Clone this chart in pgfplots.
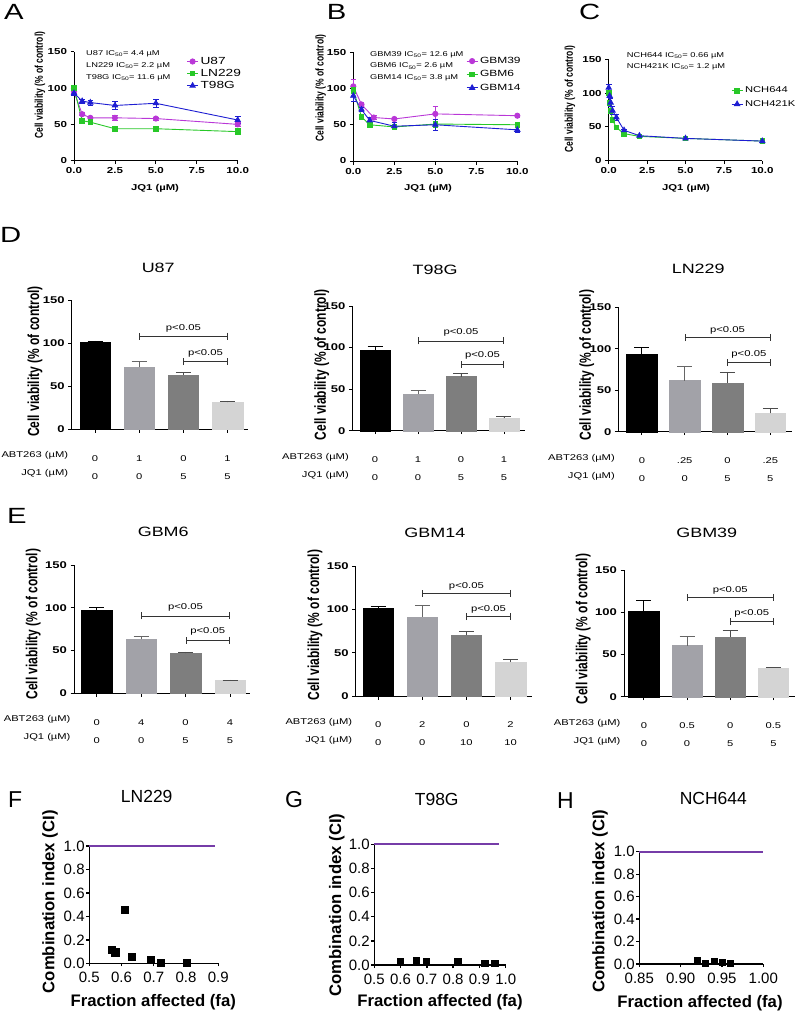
\documentclass[border=0pt]{standalone}
\usepackage{fontspec}
\setmainfont{Liberation Sans}[FakeStretch=1.33]
\newfontfamily\plainsf{Liberation Sans}
\usepackage{pgfplots}
\pgfplotsset{compat=1.18}
\usetikzlibrary{arrows.meta}

\definecolor{cmag}{RGB}{185,55,215}
\definecolor{cgreen}{RGB}{40,200,40}
\definecolor{cblue}{RGB}{30,30,210}
\definecolor{bartwo}{RGB}{162,162,168}
\definecolor{barthree}{RGB}{126,126,126}
\definecolor{barfour}{RGB}{212,212,212}
\definecolor{cipurple}{RGB}{118,60,168}

\newcommand{\fs}[2]{\fontsize{#1}{#2}\selectfont}
% significance bracket: x1, x2, y, label y, label x
\newcommand{\pbr}[5]{%
  \draw[line width=0.8pt, black!80, {Bar[width=7pt]}-{Bar[width=7pt]}] (axis cs:#1,#3) -- (axis cs:#2,#3);
  \node[font=\fs{8.5}{10}, inner sep=0pt] at (axis cs:#5,#4) {p<0.05};}

\tikzset{
  ic/.style={anchor=north west, align=left, inner sep=0pt, font=\fs{7}{12}},
  xltop/.style={anchor=center, inner sep=0pt, font=\bfseries\fs{8.5}{10}},
  xlbot/.style={anchor=center, inner sep=0pt, font=\plainsf\bfseries\fs{16.7}{18}},
}

\pgfplotsset{
  panel/.style={scale only axis, clip=false,
    axis x line=bottom, axis y line=left,
    axis line style={-, black, line width=0.8pt},
    x axis line style={-}, y axis line style={-},
    tick align=outside, major tick length=3.5pt,
    tick style={black, line width=0.8pt},
    /pgf/number format/assume math mode=true},
  ylab/.style 2 args={ylabel style={at={(axis description cs:#1,#2)}, anchor=center}},
  ttl/.style 2 args={title style={at={(axis description cs:#1,#2)}, anchor=center, yshift=-6pt}},
  dose/.style={panel, xmin=0, xmax=10, ymin=0, ymax=150,
    xtick={0,2.5,5,7.5,10}, ytick={0,50,100,150},
    xticklabel style={/pgf/number format/fixed, /pgf/number format/fixed zerofill, /pgf/number format/precision=1},
    tick label style={font=\bfseries\fs{8.7}{10}},
    ylabel={\scalebox{1}[1.33]{Cell viability (\% of control)}},
    ylabel style={font=\plainsf\bfseries\fs{8.5}{10}},
    legend style={draw=none, fill=none, inner sep=0pt},
    legend cell align=left,
    legend image code/.code={\draw[mark repeat=2, mark phase=2, ##1] plot coordinates {(0pt,0pt) (5.5pt,0pt) (11pt,0pt)};}},
  ser/.style={#1, line width=0.9pt, mark options={solid, fill=#1}},
  err/.style={error bars/.cd, y dir=both, y explicit,
    error bar style={line width=0.7pt, #1},
    error mark options={rotate=90, mark size=2.8pt, line width=0.7pt, #1}},
  barp/.style={panel, ymin=0, ymax=150, ytick={0,50,100,150}, xtick={0,1,2,3},
    ybar, bar width=30.5pt, every axis plot/.append style={bar shift=0pt},
    yticklabel style={font=\bfseries\fs{9.8}{11}},
    xticklabel style={font=\fs{8.4}{18}, align=center, yshift=-19pt},
    ylabel={\scalebox{1}[1.33]{Cell viability (\% of control)}},
    ylabel style={font=\plainsf\bfseries\fs{12}{13}},
    title style={font=\fs{13.5}{15}},
    extra x tick style={major tick length=0pt, xticklabel style={anchor=north east, align=right}}},
  beb/.style={error bars/.cd, y dir=plus, y explicit,
    error bar style={line width=0.8pt, #1},
    error mark options={rotate=90, mark size=7.5pt, line width=0.8pt, #1}},
  cip/.style={panel, ymin=0, ymax=1, ytick={0,0.2,0.4,0.6,0.8,1},
    axis line style={line width=1.3pt}, tick style={line width=1.3pt}, major tick length=3pt,
    xticklabel style={/pgf/number format/fixed, /pgf/number format/fixed zerofill, /pgf/number format/precision=1, yshift=-4pt},
    yticklabel style={/pgf/number format/fixed, /pgf/number format/fixed zerofill, /pgf/number format/precision=1},
    tick label style={font=\plainsf\fs{15}{17}, inner sep=1.5pt},
    ylabel={Combination index (CI)},
    ylabel style={font=\plainsf\bfseries\fs{16.7}{18}},
    title style={font=\plainsf\fs{17.5}{19}}},
}

\begin{document}
\begin{tikzpicture}
\useasboundingbox (0,0) rectangle (798pt,-1019pt);

% panel letters
\begin{scope}[every node/.style={font=\fs{22}{24}, inner sep=0pt, anchor=west}]
\node at (4pt,-12pt) {A};
\node at (326.7pt,-12pt) {B};
\node at (579pt,-12pt) {C};
\node at (0pt,-235pt) {D};
\node at (7pt,-516pt) {E};
\end{scope}
\begin{scope}[every node/.style={font=\plainsf\fs{23}{25}, inner sep=0pt, anchor=west}]
\node at (8pt,-800pt) {F};
\node at (285pt,-800pt) {G};
\node at (557pt,-801pt) {H};
\end{scope}

% x axis labels
\node[xltop] at (155pt,-188.3pt) {JQ1 (µM)};
\node[xltop] at (428pt,-188.3pt) {JQ1 (µM)};
\node[xltop] at (686pt,-188.3pt) {JQ1 (µM)};
\node[xlbot] at (153.3pt,-1001.7pt) {Fraction affected (fa)};
\node[xlbot] at (440pt,-1001.7pt) {Fraction affected (fa)};
\node[xlbot] at (700pt,-1003pt) {Fraction affected (fa)};

% ---------- A ----------
\begin{axis}[dose, at={(74pt,-160.7pt)}, anchor=south west, width=163.7pt, height=109pt,
  ylab={-0.208}{0.694},
  legend style={at={(axis description cs:0.687,0.97)}, anchor=north west, font=\fs{10.3}{12}, row sep=-0.6pt}]
\addplot[ser=cmag, mark=*, mark size=2.6pt, err=cmag] coordinates {
  (0,95) +- (0,3) (0.5,64) +- (0,2) (1,59) +- (0,2.5) (2.5,59) +- (0,3.5) (5,58) +- (0,2) (10,50) +- (0,3)};
\addlegendentry{U87}
\addplot[ser=cgreen, mark=square*, mark size=2.3pt, err=cgreen] coordinates {
  (0,100) +- (0,3) (0.5,55) +- (0,2) (1,53) +- (0,2) (2.5,44) +- (0,2) (5,44) +- (0,2) (10,40) +- (0,4)};
\addlegendentry{LN229}
\addplot[ser=cblue, mark=triangle*, mark size=3pt, err=cblue] coordinates {
  (0,93) +- (0,3) (0.5,82) +- (0,3) (1,80) +- (0,3.5) (2.5,76) +- (0,5) (5,79) +- (0,5) (10,56) +- (0,4.5)};
\addlegendentry{T98G}
\node[ic] at (axis description cs:0.073,1.011) {U87 IC\textsubscript{50}= 4.4 µM\\LN229 IC\textsubscript{50}= 2.2 µM\\T98G IC\textsubscript{50}= 11.6 µM};
\end{axis}

% ---------- B ----------
\begin{axis}[dose, at={(353.3pt,-161pt)}, anchor=south west, width=164pt, height=108.7pt,
  ylab={-0.199}{0.672},
  legend style={at={(axis description cs:0.687,0.975)}, anchor=north west, font=\fs{9}{11}, row sep=1.6pt}]
\addplot[ser=cmag, mark=*, mark size=2.6pt, err=cmag] coordinates {
  (0,103) +- (0,10) (0.5,78) +- (0,3) (1.25,60) +- (0,3) (2.5,58) +- (0,2) (5,65) +- (0,10) (10,62.5) +- (0,2)};
\addlegendentry{GBM39}
\addplot[ser=cgreen, mark=square*, mark size=2.3pt, err=cgreen] coordinates {
  (0,98) +- (0,5) (0.5,61) +- (0,3) (1,50) +- (0,2) (2.5,47) +- (0,4) (5,51) +- (0,4) (10,50) +- (0,2)};
\addlegendentry{GBM6}
\addplot[ser=cblue, mark=triangle*, mark size=3pt, err=cblue] coordinates {
  (0,90) +- (0,8) (0.5,71) +- (0,3) (1,56) +- (0,4) (2.5,48) +- (0,5) (5,50) +- (0,8) (10,43) +- (0,3)};
\addlegendentry{GBM14}
\node[ic, font=\fs{7}{11.3}] at (axis description cs:0.102,1.007) {GBM39 IC\textsubscript{50}= 12.6 µM\\GBM6 IC\textsubscript{50}= 2.6 µM\\GBM14 IC\textsubscript{50}= 3.8 µM};
\end{axis}

% ---------- C ----------
\begin{axis}[dose, at={(608.7pt,-160.7pt)}, anchor=south west, width=153.6pt, height=101.4pt,
  ylab={-0.252}{0.608},
  legend style={at={(axis description cs:0.796,0.748)}, anchor=north west, font=\fs{8.4}{10}, row sep=2pt}]
\addplot[ser=cgreen, mark=square*, mark size=2.3pt, err=cgreen] coordinates {
  (0,100) +- (0,4) (0.06,86) +- (0,4) (0.125,74) +- (0,3) (0.25,60) +- (0,3) (0.5,49) +- (0,2)
  (1,40) +- (0,2) (2,36) +- (0,2) (5,33) +- (0,1.5) (10,29) +- (0,1.5)};
\addlegendentry{NCH644}
\addplot[ser=cblue, mark=triangle*, mark size=3pt, err=cblue] coordinates {
  (0,108) +- (0,5) (0.06,96) +- (0,8) (0.125,86) +- (0,6) (0.25,74) +- (0,6) (0.5,64) +- (0,4)
  (1,45) +- (0,2) (2,37) +- (0,2) (5,33) +- (0,1.5) (10,29) +- (0,1.5)};
\addlegendentry{NCH421K}
\node[ic, font=\fs{7}{10.7}] at (axis description cs:0.117,1.067) {NCH644 IC\textsubscript{50}= 0.66 µM\\NCH421K IC\textsubscript{50}= 1.2 µM};
\end{axis}

% ---------- D: U87 ----------
\begin{axis}[barp, at={(71.7pt,-429.3pt)}, anchor=south west, width=176.6pt, height=129.3pt,
  xmin=-0.53, xmax=3.47, ylab={-0.208}{0.524}, title={U87}, ttl={0.49}{1.245},
  xticklabels={{0\\0},{1\\0},{0\\5},{1\\5}},
  extra x ticks={-0.53}, extra x tick labels={{ABT263 (µM)\\JQ1 (µM)}}]
\addplot[fill=black, draw=black, beb=black] coordinates {(0,100.5) +- (0,2)};
\addplot[fill=bartwo, draw=bartwo, beb=black!60] coordinates {(1,72) +- (0,6.5)};
\addplot[fill=barthree, draw=barthree, beb=black!70] coordinates {(2,63) +- (0,2.7)};
\addplot[fill=barfour, draw=barfour, beb=black!70] coordinates {(3,31.3) +- (0,1.6)};
\pbr{1}{3}{108}{117}{2}
\pbr{2}{3}{78.5}{88}{2.5}
\end{axis}

% ---------- D: T98G ----------
\begin{axis}[barp, at={(352.3pt,-430.7pt)}, anchor=south west, width=172.7pt, height=124.7pt,
  xmin=-0.53, xmax=3.49, ylab={-0.177}{0.527}, title={T98G}, ttl={0.479}{1.289},
  xticklabels={{0\\0},{1\\0},{0\\5},{1\\5}},
  extra x ticks={-0.53}, extra x tick labels={{ABT263 (µM)\\JQ1 (µM)}}]
\addplot[fill=black, draw=black, beb=black] coordinates {(0,97) +- (0,4)};
\addplot[fill=bartwo, draw=bartwo, beb=black!60] coordinates {(1,43.7) +- (0,4.3)};
\addplot[fill=barthree, draw=barthree, beb=black!70] coordinates {(2,65) +- (0,4)};
\addplot[fill=barfour, draw=barfour, beb=black!70] coordinates {(3,14.8) +- (0,2)};
\pbr{1}{3}{108}{118}{2}
\pbr{2}{3}{80}{90}{2.5}
\end{axis}

% ---------- D: LN229 ----------
\begin{axis}[barp, at={(618.3pt,-431.7pt)}, anchor=south west, width=173.4pt, height=124.4pt,
  xmin=-0.55, xmax=3.5, ylab={-0.182}{0.536}, title={LN229}, ttl={0.461}{1.313},
  xticklabels={{0\\0},{.25\\0},{0\\5},{.25\\5}},
  extra x ticks={-0.55}, extra x tick labels={{ABT263 (µM)\\JQ1 (µM)}}]
\addplot[fill=black, draw=black, beb=black] coordinates {(0,93.3) +- (0,8.4)};
\addplot[fill=bartwo, draw=bartwo, beb=black!60] coordinates {(1,61.5) +- (0,17.7)};
\addplot[fill=barthree, draw=barthree, beb=black!70] coordinates {(2,59) +- (0,13)};
\addplot[fill=barfour, draw=barfour, beb=black!70] coordinates {(3,22) +- (0,6)};
\pbr{1}{3}{113.4}{122.6}{2}
\pbr{2}{3}{83.2}{93.7}{2.5}
\end{axis}

% ---------- E: GBM6 ----------
\begin{axis}[barp, at={(74pt,-693.3pt)}, anchor=south west, width=176pt, height=128.3pt,
  xmin=-0.51, xmax=3.45, ylab={-0.231}{0.54}, title={GBM6}, ttl={0.507}{1.26},
  xticklabels={{0\\0},{4\\0},{0\\5},{4\\5}},
  extra x ticks={-0.51}, extra x tick labels={{ABT263 (µM)\\JQ1 (µM)}}]
\addplot[fill=black, draw=black, beb=black] coordinates {(0,97.4) +- (0,2.6)};
\addplot[fill=bartwo, draw=bartwo, beb=black!60] coordinates {(1,63) +- (0,3)};
\addplot[fill=barthree, draw=barthree, beb=black!70] coordinates {(2,46.8) +- (0,1.5)};
\addplot[fill=barfour, draw=barfour, beb=black!70] coordinates {(3,15.2) +- (0,0.4)};
\pbr{1}{3}{90.4}{100}{2}
\pbr{2}{3}{62.3}{72}{2.5}
\end{axis}

% ---------- E: GBM14 ----------
\begin{axis}[barp, at={(355.7pt,-696pt)}, anchor=south west, width=176pt, height=130pt,
  xmin=-0.51, xmax=3.48, ylab={-0.231}{0.546}, title={GBM14}, ttl={0.45}{1.252},
  xticklabels={{0\\0},{2\\0},{0\\10},{2\\10}},
  extra x ticks={-0.51}, extra x tick labels={{ABT263 (µM)\\JQ1 (µM)}}]
\addplot[fill=black, draw=black, beb=black] coordinates {(0,101) +- (0,2.8)};
\addplot[fill=bartwo, draw=bartwo, beb=black!60] coordinates {(1,91.5) +- (0,13.5)};
\addplot[fill=barthree, draw=barthree, beb=black!70] coordinates {(2,70) +- (0,4.2)};
\addplot[fill=barfour, draw=barfour, beb=black!70] coordinates {(3,39.2) +- (0,3.1)};
\pbr{1}{3}{118.5}{127}{2}
\pbr{2}{3}{91.5}{100}{2.5}
\end{axis}

% ---------- E: GBM39 ----------
\begin{axis}[barp, at={(624pt,-696.7pt)}, anchor=south west, width=171pt, height=126.7pt,
  xmin=-0.46, xmax=3.5, ylab={-0.238}{0.534}, title={GBM39}, ttl={0.484}{1.29},
  xticklabels={{0\\0},{0.5\\0},{0\\5},{0.5\\5}},
  extra x ticks={-0.46}, extra x tick labels={{ABT263 (µM)\\JQ1 (µM)}}]
\addplot[fill=black, draw=black, beb=black] coordinates {(0,101.8) +- (0,12)};
\addplot[fill=bartwo, draw=bartwo, beb=black!60] coordinates {(1,60.4) +- (0,10.6)};
\addplot[fill=barthree, draw=barthree, beb=black!70] coordinates {(2,71) +- (0,7)};
\addplot[fill=barfour, draw=barfour, beb=black!70] coordinates {(3,34.3) +- (0,0.4)};
\pbr{1}{3}{117.6}{126}{2}
\pbr{2}{3}{88.8}{98.7}{2.5}
\end{axis}

% ---------- F ----------
\begin{axis}[cip, at={(89.3pt,-963.3pt)}, anchor=south west, width=129pt, height=117.3pt,
  xmin=0.5, xmax=0.9, xtick={0.5,0.6,0.7,0.8,0.9},
  ylab={-0.305}{0.525}, title={LN229}, ttl={0.445}{1.42}]
\addplot[cipurple, line width=2.2pt] coordinates {(0.5,1) (0.89,1)};
\addplot[only marks, mark=square*, mark size=3.6pt, black] coordinates {
  (0.569,0.119) (0.580,0.094) (0.611,0.455) (0.632,0.057) (0.691,0.028) (0.722,0.006) (0.802,0.006)};
\end{axis}

% ---------- G ----------
\begin{axis}[cip, at={(374.3pt,-965pt)}, anchor=south west, width=131.4pt, height=120.7pt,
  xmin=0.5, xmax=1, xtick={0.5,0.6,0.7,0.8,0.9,1},
  ylab={-0.286}{0.497}, title={T98G}, ttl={0.475}{1.373}]
\addplot[cipurple, line width=2.2pt] coordinates {(0.5,1) (0.975,1)};
\addplot[only marks, mark=square*, mark size=3.3pt, black] coordinates {
  (0.598,0.033) (0.659,0.041) (0.697,0.028) (0.817,0.028) (0.921,0.014) (0.959,0.014)};
\end{axis}

% ---------- H ----------
\begin{axis}[cip, at={(639.3pt,-964pt)}, anchor=south west, width=124pt, height=112.3pt,
  xmin=0.85, xmax=1, xtick={0.85,0.9,0.95,1},
  xticklabel style={/pgf/number format/precision=2},
  ylab={-0.317}{0.561}, title={NCH644}, ttl={0.597}{1.476}]
\addplot[cipurple, line width=2.2pt] coordinates {(0.85,1) (1,1)};
\addplot[only marks, mark=square*, mark size=3pt, black] coordinates {
  (0.92,0.03) (0.93,0.01) (0.94,0.025) (0.95,0.02) (0.96,0.01)};
\end{axis}
\end{tikzpicture}
\end{document}
